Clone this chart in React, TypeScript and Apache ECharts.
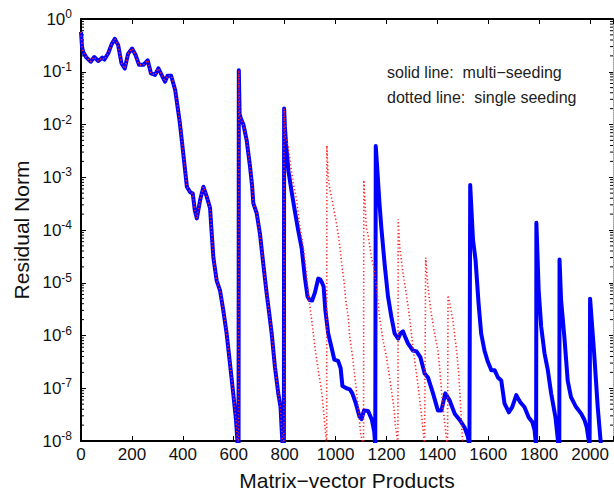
import React, { useEffect, useRef } from "react";
import * as echarts from "echarts";

// Residual history common to both runs (0 .. top of the restart at ~800)
const sharedPhase: [number, number][] = [
  [0, 0.57], [4, 0.3], [8, 0.24], [20, 0.19], [38, 0.155], [52, 0.19], [68, 0.16],
  [84, 0.185], [92, 0.17], [107, 0.225], [120, 0.33], [133, 0.42], [146, 0.32],
  [159, 0.145], [172, 0.115], [185, 0.22], [201, 0.275], [214, 0.21], [228, 0.135],
  [245, 0.135], [262, 0.165], [275, 0.093], [291, 0.087], [304, 0.116], [320, 0.081],
  [330, 0.065], [340, 0.084], [354, 0.084], [370, 0.045], [388, 0.011], [396, 5.0e-3],
  [416, 6.6e-4], [429, 5.2e-4], [439, 4.9e-4], [447, 2.4e-4], [455, 1.66e-4],
  [468, 3.7e-4], [481, 6.6e-4], [494, 4.3e-4], [507, 2.6e-4], [514, 8e-5], [520, 3e-5],
  [533, 1.1e-5], [546, 7.2e-6], [559, 3.0e-6], [572, 1.1e-6], [585, 3.0e-7], [598, 8e-8],
  [609, 2.5e-8], [616, 8e-9], [619, 8e-9], [620, 0.107], [623, 0.016], [628, 0.013],
  [638, 0.01], [651, 5.0e-3], [664, 1.6e-3], [672, 7e-4], [677, 3.2e-4], [690, 2.1e-4],
  [703, 8.5e-5], [716, 2.3e-5], [729, 6.5e-6], [740, 2.5e-6], [749, 1.1e-6],
  [762, 2.5e-7], [775, 8e-8], [784, 4.4e-8], [788, 1.8e-8], [792, 8e-9], [797, 8e-9],
  [798, 0.02],
];

// Solid line: multi-seeding
const multiSeedingTail: [number, number][] = [
  [801, 9e-3], [806, 4e-3], [810, 2.5e-3], [815, 1.3e-3], [827, 5.5e-4], [840, 2.3e-4],
  [853, 1.0e-4], [867, 4.5e-5], [880, 1.2e-5], [890, 5.5e-6], [898, 4.7e-6], [908, 4.6e-6],
  [919, 6.5e-6], [932, 1.2e-5], [940, 1.15e-5], [947, 1.0e-5], [953, 8.5e-6], [960, 3e-6],
  [971, 1.1e-6], [984, 6e-7], [995, 3.5e-7], [1010, 3.3e-7], [1020, 2.4e-7],
  [1027, 1.1e-7], [1043, 1.0e-7], [1056, 9.5e-8], [1066, 8e-8], [1080, 5.1e-8],
  [1094, 2.9e-8], [1102, 2.6e-8], [1112, 3.8e-8], [1128, 3.7e-8], [1143, 2.5e-8],
  [1152, 1.5e-8], [1156, 8e-9], [1157, 8e-9], [1158, 3.9e-3], [1165, 1.2e-3],
  [1172, 3.5e-4], [1180, 1.1e-4], [1193, 2.2e-5], [1206, 5.5e-6], [1219, 2.3e-6],
  [1232, 1.1e-6], [1246, 8.7e-7], [1255, 1.1e-6], [1265, 1.2e-6], [1275, 9e-7],
  [1285, 7e-7], [1304, 5.2e-7], [1318, 5.0e-7], [1333, 3.9e-7], [1350, 1.9e-7],
  [1363, 1.6e-7], [1383, 8e-8], [1402, 3.8e-8], [1416, 3.8e-8], [1431, 8e-8],
  [1448, 5.9e-8], [1468, 3.3e-8], [1488, 2.5e-8], [1507, 1.8e-8], [1520, 1.2e-8],
  [1526, 8e-9], [1528, 8e-9], [1529, 7.1e-4], [1540, 6.5e-5], [1550, 2.7e-5],
  [1562, 4e-6], [1572, 1.1e-6], [1585, 5.2e-7], [1598, 3.2e-7], [1612, 2.2e-7],
  [1625, 2.2e-7], [1638, 1.6e-7], [1651, 1.4e-7], [1664, 5.1e-8], [1681, 3.5e-8],
  [1694, 4.4e-8], [1710, 7.4e-8], [1725, 5.5e-8], [1742, 4.4e-8], [1759, 2.8e-8],
  [1773, 2.3e-8], [1782, 1.6e-8], [1788, 8e-9], [1789, 1.37e-4], [1798, 7.2e-6],
  [1808, 1.45e-6], [1821, 4.6e-7], [1834, 2.2e-7], [1847, 8e-8], [1864, 2.8e-8],
  [1876, 8e-9], [1879, 8e-9], [1880, 2.75e-5], [1886, 4.7e-6], [1899, 9.3e-7],
  [1912, 1.4e-7], [1925, 6.8e-8], [1945, 4.4e-8], [1965, 3.3e-8], [1978, 2.5e-8],
  [1987, 1.8e-8], [1995, 1.0e-8], [1998, 8e-9], [2000, 5e-6], [2017, 3.9e-7],
  [2030, 4.4e-8], [2043, 8e-9],
];

// Dotted line: single seeding
const singleSeedingTail: [number, number][] = [
  [803, 6e-3], [810, 4.5e-3], [814, 4e-3], [821, 2.1e-3], [834, 7.6e-4], [847, 3.7e-4],
  [860, 1.15e-4], [873, 4.8e-5], [886, 1.5e-5], [893, 6e-6], [906, 2e-6], [919, 6e-7],
  [932, 2.2e-7], [945, 9e-8], [954, 3.3e-8], [962, 1.2e-8], [965, 8e-9], [966, 4e-3],
  [971, 1.0e-3], [978, 5.8e-4], [991, 2.8e-4], [1004, 1.3e-4], [1010, 8.5e-5],
  [1017, 4.8e-5], [1024, 2.3e-5], [1033, 1.1e-5], [1040, 4.7e-6], [1050, 2.2e-6],
  [1056, 9.3e-7], [1067, 3.9e-7], [1076, 1.6e-7], [1085, 6.8e-8], [1093, 2.8e-8],
  [1098, 1.4e-8], [1105, 1e-8], [1110, 8e-9], [1111, 8.8e-4], [1121, 1.1e-4],
  [1128, 8e-5], [1141, 3e-5], [1150, 2e-5], [1161, 8e-6], [1174, 2e-6], [1187, 8e-7],
  [1200, 3.9e-7], [1210, 1.9e-7], [1220, 9e-8], [1229, 4.4e-8], [1236, 1.8e-8],
  [1242, 1.2e-8], [1245, 8e-9], [1246, 1.6e-4], [1252, 4.8e-5], [1265, 1.5e-5],
  [1278, 6.2e-6], [1291, 2.2e-6], [1298, 1.1e-6], [1307, 4.6e-7], [1318, 1.9e-7],
  [1328, 7.9e-8], [1337, 3.3e-8], [1344, 1.6e-8], [1350, 8e-9], [1354, 3e-5],
  [1363, 8.3e-6], [1376, 2.6e-6], [1389, 1.1e-6], [1402, 5.2e-7], [1409, 2.5e-7],
  [1416, 9.1e-8], [1422, 4.4e-8], [1429, 2.1e-8], [1435, 1.2e-8], [1440, 8e-9],
  [1442, 5.8e-6], [1461, 1.95e-6], [1474, 6e-7], [1484, 1.9e-7], [1490, 5.9e-8],
  [1494, 2.5e-8], [1498, 1.2e-8], [1502, 8e-9],
];

const xMin = 0;
const xMax = 2090;
const xTickStep = 200;
const yMin = 1e-8;
const yMax = 1;
const minorMultipliers = [2, 3, 4, 5, 6, 7, 8, 9];
const legendLines = ["solid line:  multi\u2212seeding", "dotted line:  single seeding"];
const xTitle = "Matrix\u2212vector Products";
const yTitle = "Residual Norm";

const FONT = "'Liberation Sans', Arial, Helvetica, sans-serif";

export default function App() {
  const ref = useRef<HTMLDivElement>(null);
  useEffect(() => {
    if (!ref.current) return;
    const chart = echarts.init(ref.current, null, { renderer: "svg" });
    const multi = sharedPhase.concat(multiSeedingTail);
    const single = sharedPhase.concat(singleSeedingTail);
    const minorTicks: number[][] = [];
    for (let e = -8; e < 0; e++) {
      for (const m of minorMultipliers) minorTicks.push([xMin, m * Math.pow(10, e)]);
    }
    const axisLine = { show: true, onZero: false, lineStyle: { color: "#000", width: 2 } };
    const tick = { show: true, inside: true, length: 5, lineStyle: { color: "#000", width: 1 } };
    chart.setOption({
      animation: false,
      backgroundColor: "#fff",
      grid: { left: 81, right: 1, top: 19, bottom: 50, containLabel: false, outerBoundsMode: "none" },
      xAxis: [
        {
          type: "value", min: xMin, max: xMax, interval: xTickStep, position: "bottom",
          name: xTitle, nameLocation: "middle", nameGap: 29,
          nameTextStyle: { fontFamily: FONT, fontSize: 21, color: "#111" },
          axisLine, axisTick: tick, splitLine: { show: false },
          axisLabel: {
            fontFamily: FONT, fontSize: 17, color: "#111", margin: 5,
            formatter: (v: number) => (v % xTickStep === 0 ? String(v) : ""),
          },
        },
        {
          type: "value", min: xMin, max: xMax, interval: xTickStep, position: "top",
          axisLine, axisTick: tick, splitLine: { show: false }, axisLabel: { show: false },
        },
      ],
      yAxis: [
        {
          type: "log", logBase: 10, min: yMin, max: yMax, position: "left",
          name: yTitle, nameLocation: "middle", nameGap: 48,
          nameTextStyle: { fontFamily: FONT, fontSize: 21, color: "#111" },
          axisLine, axisTick: tick, splitLine: { show: false }, minorTick: { show: false },
          axisLabel: {
            fontFamily: FONT, fontSize: 17, color: "#111", margin: 9, lineHeight: 22,
            formatter: (v: number) => "10{e|" + Math.round(Math.log10(v)) + "}",
            rich: { e: { fontFamily: FONT, fontSize: 12, color: "#111", verticalAlign: "top", lineHeight: 12 } },
          },
        },
        {
          type: "log", logBase: 10, min: yMin, max: yMax, position: "right",
          axisLine: { show: true, onZero: false, lineStyle: { color: "#999", width: 1, type: "dotted" } },
          axisTick: { show: true, inside: true, length: 4, lineStyle: { color: "#000", width: 1 } },
          splitLine: { show: false }, axisLabel: { show: false },
        },
      ],
      graphic: legendLines.map((t, i) => ({
        type: "text", x: 387, y: 72 + i * 25, z: 100,
        style: { text: t, fontFamily: FONT, fontSize: 16, fill: "#222", verticalAlign: "middle", align: "left" },
      })),
      series: [
        {
          type: "custom", name: "minor ticks", xAxisIndex: 0, yAxisIndex: 0, silent: true, clip: false,
          data: minorTicks,
          renderItem: (_p: any, api: any) => {
            const v = api.value(1);
            const l = api.coord([xMin, v]);
            const r = api.coord([xMax, v]);
            return {
              type: "group",
              children: [
                { type: "line", shape: { x1: l[0], y1: l[1], x2: l[0] + 3, y2: l[1] }, style: { stroke: "#000", lineWidth: 1 } },
                { type: "line", shape: { x1: r[0], y1: r[1], x2: r[0] - 3, y2: r[1] }, style: { stroke: "#000", lineWidth: 1 } },
              ],
            };
          },
        },
        {
          type: "line", name: "multi-seeding", data: multi, xAxisIndex: 0, yAxisIndex: 0,
          symbol: "none", showSymbol: false, clip: true,
          lineStyle: { color: "#0000ff", width: 4, type: "solid", join: "round" },
          z: 3,
        },
        {
          type: "line", name: "single seeding", data: single, xAxisIndex: 0, yAxisIndex: 0,
          symbol: "none", showSymbol: false, clip: true,
          lineStyle: { color: "#ff2020", width: 1.6, type: [1.2, 2.4] },
          z: 4,
        },
      ],
    });
    return () => chart.dispose();
  }, []);
  return (
    <div
      ref={ref}
      style={{ position: "fixed", left: 0, top: 0, width: 614, height: 491, background: "#fff" }}
    />
  );
}
